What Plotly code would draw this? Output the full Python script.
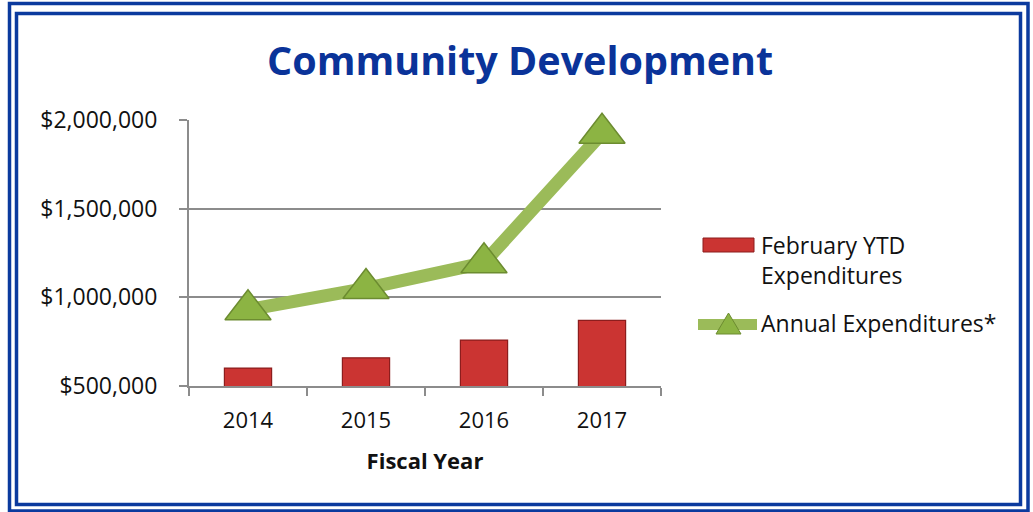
import plotly.graph_objects as go

# Fiscal years and expenditure figures
years = ["2014", "2015", "2016", "2017"]
feb_ytd = [601000, 659000, 759000, 870000]
annual = [930000, 1050000, 1195000, 1925000]
y_ticks = [500000, 1000000, 1500000, 2000000]
y_labels = ["$500,000", "$1,000,000", "$1,500,000", "$2,000,000"]

W, H = 1033, 512
L, R, T, B = 189, 661, 120, 386          # plot area in pixels
BLUE = "#0B3A9E"
FONT = "Open Sans"
TXT = 23


def px(x):
    return (x - L) / (R - L)


def py(y):
    return (B - y) / (B - T)


fig = go.Figure()

fig.add_trace(go.Bar(
    x=years, y=feb_ytd, width=0.4,
    marker=dict(color="#CB3432", line=dict(color="#8C1D1D", width=1.2)),
    name="February YTD Expenditures", showlegend=False,
))

fig.add_trace(go.Scatter(
    x=years, y=annual, mode="lines+markers",
    line=dict(color="#9BBB59", width=13),
    marker=dict(symbol="triangle-up", size=40, color="#8CB443",
                line=dict(color="#6C8C30", width=1.5)),
    name="Annual Expenditures*", showlegend=False, cliponaxis=False,
))

shapes = [
    # double frame
    dict(type="rect", xref="paper", yref="paper",
         x0=px(9.5), x1=px(1028), y0=py(3.5), y1=py(511),
         line=dict(color=BLUE, width=3.5)),
    dict(type="rect", xref="paper", yref="paper",
         x0=px(16.5), x1=px(1020.5), y0=py(13.5), y1=py(504.5),
         line=dict(color=BLUE, width=3.5)),
    # legend swatches
    dict(type="rect", xref="paper", yref="paper",
         x0=px(703), x1=px(754), y0=py(238), y1=py(252),
         fillcolor="#CB3432", line=dict(color="#8C1D1D", width=1)),
    dict(type="line", xref="paper", yref="paper",
         x0=px(698), x1=px(757), y0=py(324.5), y1=py(324.5),
         line=dict(color="#9BBB59", width=11)),
    dict(type="path", xref="paper", yref="paper",
         path=f"M {px(716)},{py(334)} L {px(741)},{py(334)} L {px(728.5)},{py(313)} Z",
         fillcolor="#8CB443", line=dict(color="#6C8C30", width=1)),
]

annotations = [
    dict(text="<b>Community Development</b>", xref="paper", yref="paper",
         x=px(520), y=py(60), xanchor="center", yanchor="middle",
         showarrow=False, font=dict(family=FONT, size=39.5, color="#0A3399")),
    dict(text="February YTD<br>Expenditures", xref="paper", yref="paper",
         x=px(759), y=py(260), xanchor="left", yanchor="middle", align="left",
         showarrow=False, font=dict(family=FONT, size=TXT, color="#111111")),
    dict(text="Annual Expenditures*", xref="paper", yref="paper",
         x=px(759), y=py(323), xanchor="left", yanchor="middle",
         showarrow=False, font=dict(family=FONT, size=TXT, color="#111111")),
]

fig.update_layout(
    width=W, height=H,
    margin=dict(l=L, r=W - R, t=T, b=H - B, pad=0),
    paper_bgcolor="white", plot_bgcolor="white",
    shapes=shapes, annotations=annotations,
    font=dict(family=FONT, size=TXT, color="#111111"),
    bargap=0.6,
)

fig.update_xaxes(
    type="category", tickson="boundaries",
    showline=True, linecolor="#8C8C8C", linewidth=2,
    ticks="outside", ticklen=8, tickwidth=2, tickcolor="#8C8C8C",
    ticklabelstandoff=14, showgrid=False,
    tickfont=dict(family=FONT, size=22, color="#111111"),
    title=dict(text="<b>Fiscal Year</b>", standoff=20,
               font=dict(family=FONT, size=22, color="#111111")),
)

fig.update_yaxes(
    range=[500000, 2000000], tickvals=y_ticks, ticktext=y_labels,
    showline=True, linecolor="#8C8C8C", linewidth=2,
    ticks="outside", ticklen=8, tickwidth=2, tickcolor="#8C8C8C",
    ticklabelstandoff=17,
    showgrid=True, gridcolor="#8C8C8C", gridwidth=2, zeroline=False,
    tickfont=dict(family=FONT, size=TXT, color="#111111"),
)

fig.write_html("out.html")
